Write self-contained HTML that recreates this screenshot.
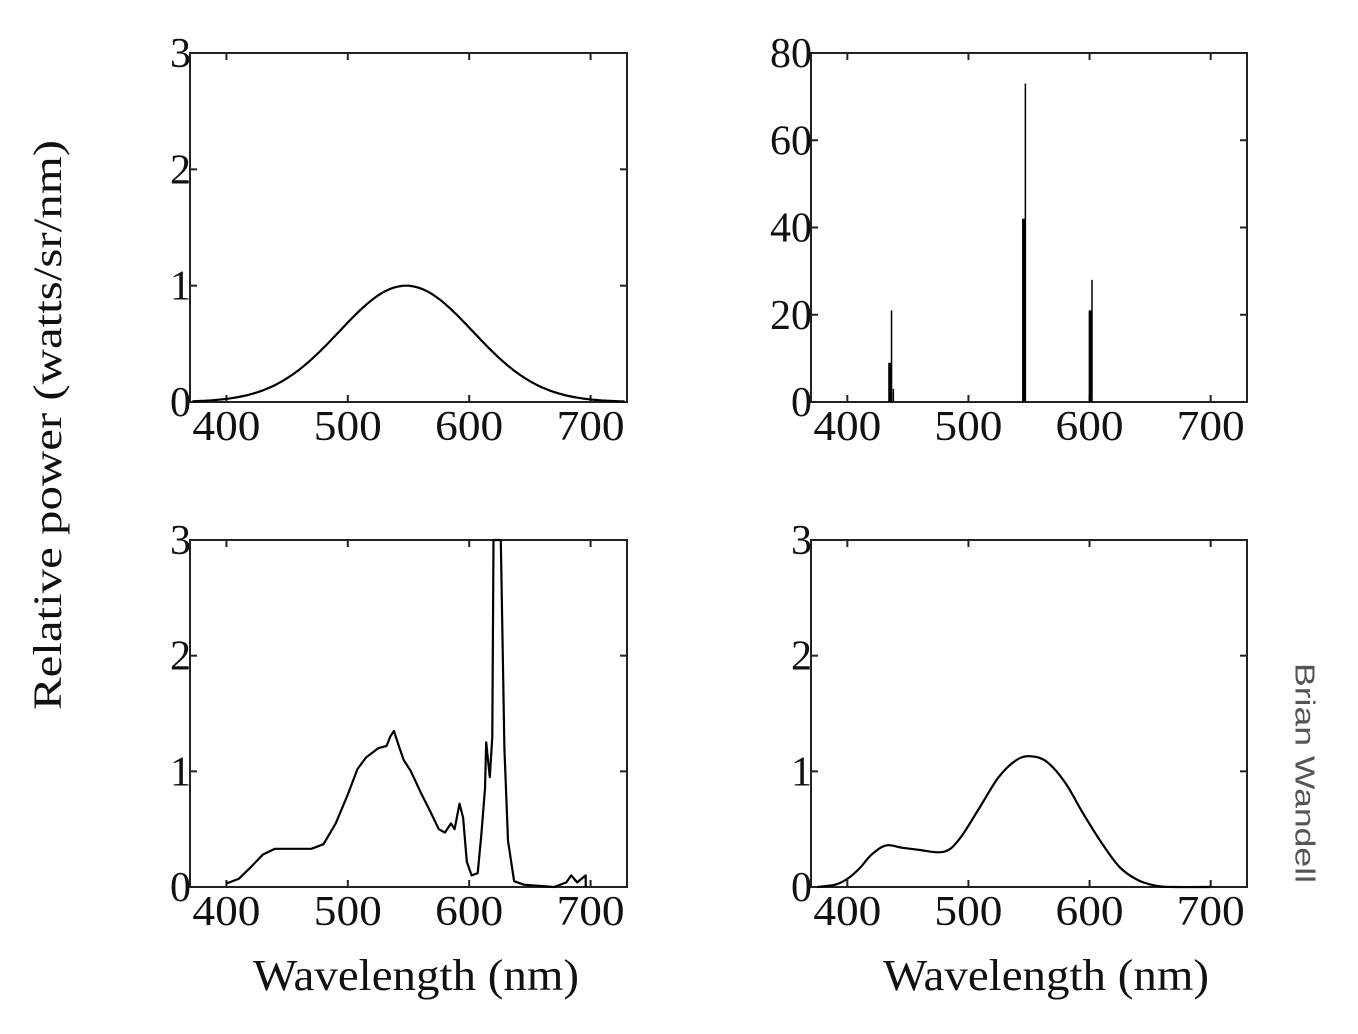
<!DOCTYPE html>
<html><head><meta charset="utf-8"><style>
html,body{margin:0;padding:0;background:#fff;width:1358px;height:1034px;overflow:hidden}
svg{display:block}
.t{font-family:"Liberation Serif",serif;font-size:40px;fill:#111}
</style></head><body>
<svg id="s" width="1358" height="1034" xmlns="http://www.w3.org/2000/svg">
<g fill="none" stroke="#222" stroke-width="2">
<rect x="190" y="53" width="437" height="349"/>
<rect x="811" y="53" width="436" height="349"/>
<rect x="190" y="540" width="437" height="347"/>
<rect x="811" y="540" width="436" height="347"/>
</g>
<g id="ticks" stroke="#222" stroke-width="2"></g>
<g id="curves" fill="none" stroke="#000" stroke-width="2.2" stroke-linejoin="round"></g>
<g id="labels" class="t"></g>
<text class="t" x="52" y="425" text-anchor="middle" dominant-baseline="middle" transform="rotate(-90 52 425)" style="font-size:40px" textLength="570" lengthAdjust="spacingAndGlyphs">Relative power (watts/sr/nm)</text>
<text class="t" x="416" y="990" text-anchor="middle" style="font-size:44px" textLength="326" lengthAdjust="spacingAndGlyphs">Wavelength (nm)</text>
<text class="t" x="1046" y="990" text-anchor="middle" style="font-size:44px" textLength="326" lengthAdjust="spacingAndGlyphs">Wavelength (nm)</text>
<text x="1303" y="773" text-anchor="middle" dominant-baseline="middle" transform="rotate(90 1303 773)" style="font-family:'Liberation Sans',sans-serif;font-size:28px;fill:#555" textLength="220" lengthAdjust="spacingAndGlyphs">Brian Wandell</text>
</svg>
<script>
var NS="http://www.w3.org/2000/svg";
function el(p,t,a,txt){var e=document.createElementNS(NS,t);for(var k in a)e.setAttribute(k,a[k]);if(txt!=null)e.textContent=txt;document.getElementById(p).appendChild(e);}
var panels=[
 {x0:190,x1:627,y0:53,y1:402,max:3,yt:[0,1,2,3]},
 {x0:811,x1:1247,y0:53,y1:402,max:80,yt:[0,20,40,60,80]},
 {x0:190,x1:627,y0:540,y1:887,max:3,yt:[0,1,2,3]},
 {x0:811,x1:1247,y0:540,y1:887,max:3,yt:[0,1,2,3]}];
panels.forEach(function(p){
 p.X=function(l){return p.x0+(l-370)*(p.x1-p.x0)/360;};
 p.Y=function(v){return p.y1-v*(p.y1-p.y0)/p.max;};
 [400,500,600,700].forEach(function(l){var x=p.X(l);
  el("ticks","line",{x1:x,x2:x,y1:p.y1,y2:p.y1-7});el("ticks","line",{x1:x,x2:x,y1:p.y0,y2:p.y0+7});
  el("labels","text",{x:x,y:p.y1+38,"text-anchor":"middle",textLength:68,lengthAdjust:"spacingAndGlyphs",style:"font-size:42px"},String(l));});
 p.yt.forEach(function(v){var y=p.Y(v);
  el("ticks","line",{x1:p.x0,x2:p.x0+7,y1:y,y2:y});el("ticks","line",{x1:p.x1,x2:p.x1-7,y1:y,y2:y});
  var s=String(v);
  el("labels","text",{x:p.x0+1,y:y+14,"text-anchor":"end",textLength:s.length*21,lengthAdjust:"spacingAndGlyphs",style:"font-size:42px"},s);});
});
function path(p,pts,smooth){
 var P=pts.map(function(q){return [p.X(q[0]),Math.max(p.y0,p.Y(q[1]))];});
 var d="M"+P[0][0].toFixed(1)+" "+P[0][1].toFixed(1);
 for(var i=1;i<P.length;i++){
  if(smooth){var a=P[Math.max(0,i-2)],b=P[i-1],c=P[i],e=P[Math.min(P.length-1,i+1)];
   var c1=[b[0]+(c[0]-a[0])/6,b[1]+(c[1]-a[1])/6],c2=[c[0]-(e[0]-b[0])/6,c[1]-(e[1]-b[1])/6];
   d+="C"+c1[0].toFixed(1)+" "+c1[1].toFixed(1)+" "+c2[0].toFixed(1)+" "+c2[1].toFixed(1)+" "+c[0].toFixed(1)+" "+c[1].toFixed(1);}
  else d+="L"+P[i][0].toFixed(1)+" "+P[i][1].toFixed(1);}
 el("curves","path",{d:d});}
var a=[];for(var l=372;l<=728;l+=2){a.push([l,Math.exp(-Math.pow(l-548,2)/(2*55*55))]);}
path(panels[0],a);
var P1=panels[1];
[[435,0,9,3],[436.5,0,21,1.5],[438,0,3,1.5],[545.5,0,42,3],[547,0,73,1.5],[600.5,0,21,3],[602,0,28,1.5]].forEach(function(s){
 var x=P1.X(s[0]);el("curves","line",{x1:x,x2:x,y1:P1.Y(s[1]),y2:P1.Y(s[2]),"stroke-width":s[3]});});
path(panels[2],[[400,0.03],[410,0.07],[420,0.17],[430,0.28],[440,0.33],[455,0.33],[470,0.33],[480,0.37],[490,0.55],[500,0.8],[508,1.02],[515,1.12],[525,1.2],[532,1.22],[535,1.3],[538,1.35],[542,1.22],[546,1.1],[552,1.0],[560,0.82],[568,0.65],[575,0.5],[580,0.47],[585,0.55],[588,0.5],[592,0.72],[595,0.6],[598,0.22],[602,0.1],[607,0.12],[610,0.45],[613,0.85],[614,1.25],[616,1.05],[617,0.95],[619,1.3],[620,3.1],[626,3.1],[627,2.4],[629,1.2],[632,0.4],[637,0.05],[645,0.02],[670,0.0],[680,0.04],[684,0.1],[689,0.04],[696,0.1],[696,0]]);
path(panels[3],[[375,0],[390,0.02],[400,0.07],[410,0.16],[420,0.28],[432,0.36],[445,0.34],[460,0.32],[475,0.3],[485,0.33],[495,0.45],[510,0.7],[525,0.95],[540,1.1],[552,1.13],[565,1.08],[580,0.9],[595,0.63],[610,0.38],[625,0.17],[640,0.06],[655,0.01],[670,0],[700,0]],true);
</script>
</body></html>
